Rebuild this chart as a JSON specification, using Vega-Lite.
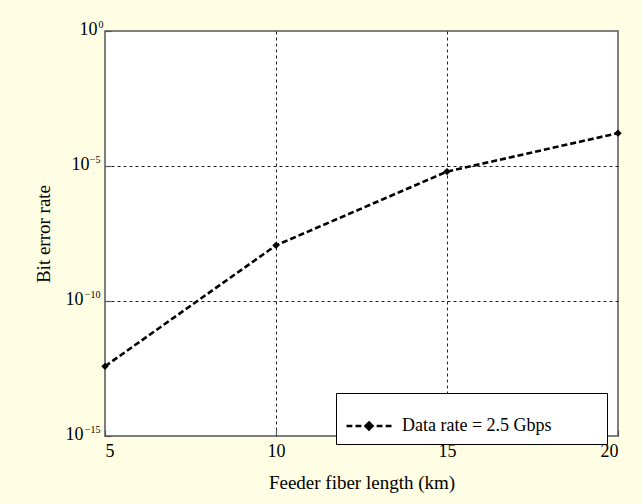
{
  "$schema": "https://vega.github.io/schema/vega-lite/v6.json",
  "width": 513,
  "height": 405,
  "autosize": {"type": "none"},
  "padding": {"left": 105, "top": 31, "right": 24, "bottom": 68},
  "background": "#fffee4",
  "config": {
    "view": {"fill": "white", "stroke": "#555555", "strokeWidth": 1.5},
    "font": "Liberation Serif",
    "axis": {
      "domain": false,
      "gridDash": [3, 3],
      "gridColor": "#222222",
      "gridWidth": 1,
      "tickColor": "#555555",
      "tickWidth": 1.2,
      "tickSize": -6,
      "labelFont": "Liberation Serif",
      "labelFontSize": 18,
      "labelColor": "black",
      "titleFont": "Liberation Serif",
      "titleFontSize": 19,
      "titleFontWeight": "normal",
      "titleColor": "black"
    }
  },
  "data": {
    "values": [
      {"length": 5, "ber": 3.8e-13, "series": "Data rate = 2.5 Gbps"},
      {"length": 10, "ber": 1.15e-8, "series": "Data rate = 2.5 Gbps"},
      {"length": 15, "ber": 6.2e-6, "series": "Data rate = 2.5 Gbps"},
      {"length": 20, "ber": 1.65e-4, "series": "Data rate = 2.5 Gbps"}
    ]
  },
  "encoding": {
    "x": {
      "field": "length",
      "type": "quantitative",
      "scale": {"domain": [5, 20], "nice": false, "zero": false},
      "axis": {
        "values": [5, 10, 15, 20],
        "grid": true,
        "labelPadding": 12,
        "gridOpacity": {"condition": {"test": "datum.value == 5 || datum.value == 20", "value": 0}, "value": 1},
        "title": "Feeder fiber length (km)",
        "titleBaseline": "alphabetic",
        "titleY": 52
      }
    },
    "color": {
      "field": "series",
      "type": "nominal",
      "scale": {"range": ["black"]},
      "legend": {
        "orient": "none",
        "legendX": 231,
        "legendY": 362,
        "title": " ",
        "titleOrient": "right",
        "titlePadding": 46,
        "symbolType": "M-1,0H-0.74M-0.6,0H-0.34M-0.2,0H0.2M0.34,0H0.6M0.74,0H1M0,-0.16L0.16,0L0,0.16L-0.16,0Z",
        "symbolSize": 2025,
        "symbolStrokeWidth": 2.4,
        "symbolStrokeColor": "black",
        "symbolFillColor": "black",
        "labelFont": "Liberation Serif",
        "labelFontSize": 18,
        "labelColor": "black",
        "labelOffset": 9,
        "padding": 9,
        "strokeColor": "black",
        "fillColor": "white"
      }
    }
  },
  "layer": [
    {
      "mark": {"type": "line", "strokeDash": [6, 3], "strokeWidth": 2.6},
      "encoding": {
        "y": {
          "field": "ber",
          "type": "quantitative",
          "scale": {"type": "log", "domain": [1e-15, 1], "nice": false},
          "axis": {
            "orient": "left",
            "values": [1e-15, 1e-10, 1e-5, 1],
            "grid": true,
            "labelExpr": "'10'",
            "labelOffset": -2,
            "labelPadding": {
              "condition": [
                {"test": "datum.value > 0.1", "value": 14},
                {"test": "datum.value > 1e-7", "value": 22}
              ],
              "value": 28
            },
            "gridOpacity": {"condition": {"test": "datum.value < 1e-12 || datum.value > 0.1", "value": 0}, "value": 1},
            "title": "Bit error rate",
            "titleBaseline": "alphabetic",
            "titleX": -56
          }
        }
      }
    },
    {
      "mark": {"type": "point", "filled": true, "shape": "diamond", "size": 55, "opacity": 1},
      "encoding": {
        "y": {
          "field": "ber",
          "type": "quantitative",
          "scale": {"type": "log", "domain": [1e-15, 1], "nice": false},
          "axis": {
            "orient": "left",
            "values": [1e-15, 1e-10, 1e-5, 1],
            "grid": false,
            "ticks": false,
            "labelExpr": "datum.value < 1e-12 ? '−15' : datum.value < 1e-7 ? '−10' : datum.value < 1e-2 ? '−5' : '0'",
            "labelFontSize": 10,
            "labelOffset": -7,
            "labelPadding": {"condition": {"test": "datum.value > 0.1", "value": 2}, "value": 5},
            "title": null
          }
        }
      }
    }
  ],
  "resolve": {"axis": {"y": "independent"}}
}
